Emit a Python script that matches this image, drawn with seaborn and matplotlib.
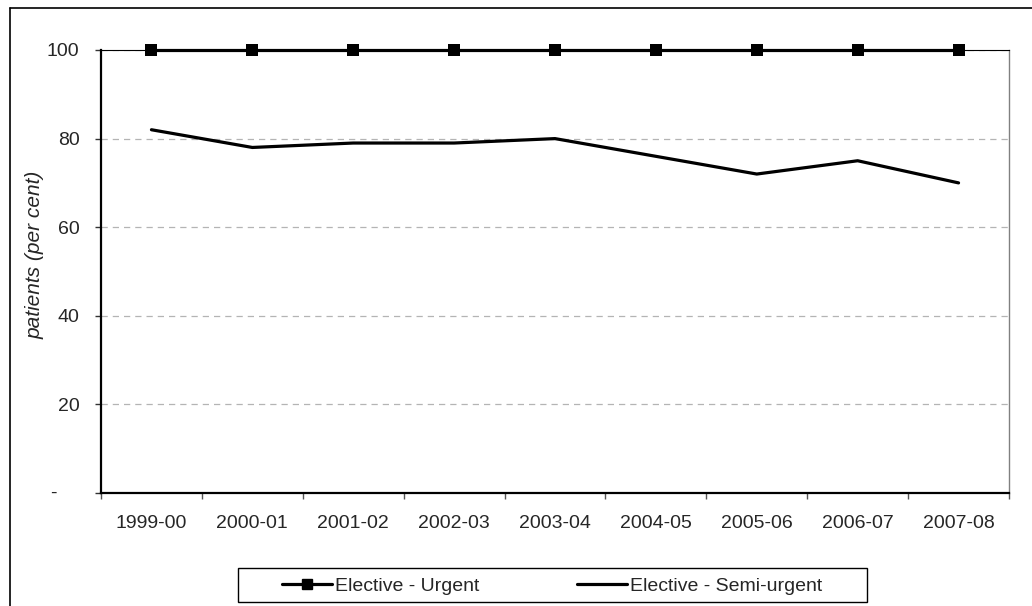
import matplotlib
matplotlib.use("Agg")
import matplotlib.pyplot as plt
import matplotlib.transforms as mtransforms
from matplotlib.patches import Rectangle
from matplotlib.lines import Line2D
import seaborn as sns
import pandas as pd

# data
years = ["1999-00", "2000-01", "2001-02", "2002-03", "2003-04",
         "2004-05", "2005-06", "2006-07", "2007-08"]
urgent = [100, 100, 100, 100, 100, 100, 100, 100, 100]
semi_urgent = [82, 78, 79, 79, 80, 76, 72, 75, 70]
y_ticks = [0, 20, 40, 60, 80, 100]
y_tick_labels = ["", "20", "40", "60", "80", "100"]

sns.set_style("white")
plt.rcParams["font.family"] = ["Liberation Sans", "DejaVu Sans"]
plt.rcParams["font.size"] = 14

df = pd.DataFrame({"year": years, "urgent": urgent, "semi": semi_urgent})
df["pos"] = range(len(years))

fig = plt.figure(figsize=(10.32, 6.06), dpi=100)
W, H = 1032, 606
ax = fig.add_axes([101 / W, 1 - 493 / H, 908 / W, 443 / H])

sns.lineplot(data=df, x="pos", y="urgent", ax=ax, color="black", lw=2.3,
             marker="s", markersize=8, markeredgewidth=0, zorder=4)
sns.lineplot(data=df, x="pos", y="semi", ax=ax, color="black", lw=2.3, zorder=4)
for ln in ax.lines:
    ln.set_clip_on(False)

ax.set_xlim(-0.5, len(years) - 0.5)
ax.set_ylim(0, 100)

# x axis: labels at centres, ticks at category boundaries
ax.set_xticks(df["pos"])
ax.set_xticklabels(years)
ax.set_xticks([p - 0.5 for p in range(len(years) + 1)], minor=True)
ax.tick_params(axis="x", which="major", length=0, pad=15.5, labelsize=14)
ax.tick_params(axis="x", which="minor", length=4.5, width=1, color="#555555",
               direction="out", bottom=True)

ax.set_yticks(y_ticks)
ax.set_yticklabels(y_tick_labels)
ax.tick_params(axis="y", which="major", length=4.5, width=1, color="#333333",
               direction="out", left=True, pad=11, labelsize=14)
# zero shown as a dash, Excel style
blend = mtransforms.blended_transform_factory(fig.transFigure, ax.transData)
ax.text(53 / W, 0, "-", transform=blend, ha="center", va="center", fontsize=14)

ax.set_xlabel("")
ax.set_ylabel("patients (per cent)", fontstyle="italic", fontsize=15)
ax.yaxis.set_label_coords(-56 / 908, 0.537)

ax.yaxis.grid(True, color="#b4b4b4", linestyle=(0, (5, 4)), lw=0.9)
ax.xaxis.grid(False)
ax.set_axisbelow(True)

for side in ["left", "bottom"]:
    ax.spines[side].set_color("black")
    ax.spines[side].set_linewidth(1.6)
ax.spines["top"].set_color("black")
ax.spines["top"].set_linewidth(0.8)
ax.spines["right"].set_color("#808080")
ax.spines["right"].set_linewidth(1.0)
for s in ax.spines.values():
    s.set_visible(True)

# legend with its own box
handles = [Line2D([], [], color="black", lw=2.3, marker="s", markersize=7),
           Line2D([], [], color="black", lw=2.3)]
fig.legend(handles, ["Elective - Urgent", "Elective - Semi-urgent"],
           loc="center", bbox_to_anchor=(552 / W, 1 - 586 / H), ncol=2,
           frameon=False, fontsize=14, handlelength=2.6, handletextpad=0.15,
           columnspacing=5.0)
fig.patches.append(Rectangle((238 / W, 1 - 602 / H), 629 / W, 34 / H,
                             transform=fig.transFigure, fill=False,
                             edgecolor="black", lw=1.0))

# outer chart frame (left and top edges visible)
fig.add_artist(Line2D([10 / W, 10 / W], [0, 1 - 8 / H], transform=fig.transFigure,
                      color="black", lw=1.2))
fig.add_artist(Line2D([10 / W, 1], [1 - 8 / H, 1 - 8 / H], transform=fig.transFigure,
                      color="black", lw=1.2))

fig.savefig("out.png", dpi=100)
